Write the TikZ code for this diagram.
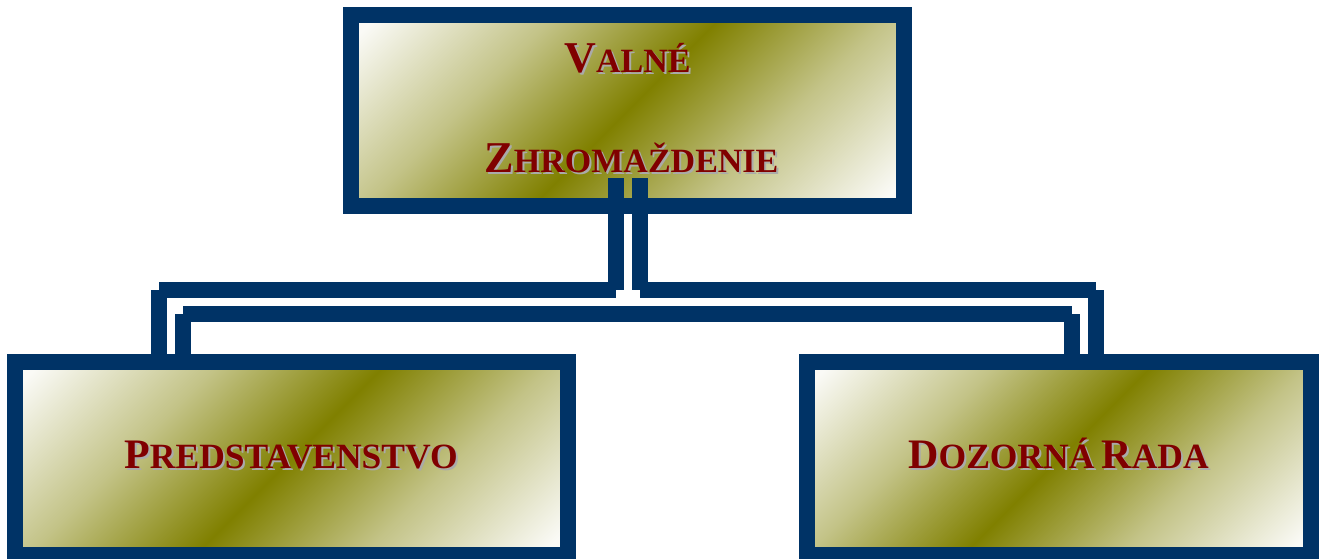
\documentclass[tikz,border=0pt]{standalone}
\usepackage{fontspec}
\setmainfont{Liberation Serif}
\definecolor{navy}{RGB}{0,51,102}
\definecolor{txtred}{RGB}{128,0,0}
\definecolor{shad}{RGB}{170,170,170}
\definecolor{olv}{RGB}{128,128,0}
\definecolor{edgew}{RGB}{250,250,246}
\colorlet{midol}{olv!45!edgew}
\pgfdeclareverticalshading{diagband}{100bp}{color(0bp)=(edgew); color(17bp)=(edgew); color(34bp)=(midol); color(50bp)=(olv); color(66bp)=(midol); color(83bp)=(edgew); color(100bp)=(edgew)}
\newcommand\tbig[1]{{\fontsize{44}{44}\selectfont #1}}
\newcommand\tsml[1]{{\fontsize{34}{34}\selectfont #1}}
\newcommand\bbig[1]{{\fontsize{42}{42}\selectfont #1}}
\newcommand\bsml[1]{{\fontsize{35.5}{35.5}\selectfont #1}}
\begin{document}
\begin{tikzpicture}[x=1pt,y=-1pt,
  box/.style={draw=navy,line width=16pt,inner sep=0pt,
    shading=diagband,shading angle=45},
  conn/.style={draw=navy,line width=16pt,line cap=butt},
  lbl/.style={inner sep=0pt,anchor=base,font=\bfseries,text=txtred},
  lblsh/.style={lbl,text=shad}]
\useasboundingbox (0,0) rectangle (1325,559);
\node[box,minimum width=553pt,minimum height=191pt] (T) at (627.5,110.5) {};
\node[box,minimum width=552.5pt,minimum height=193pt] (L) at (291.25,458.5) {};
\node[box,minimum width=504pt,minimum height=193pt] (R) at (1059,458.5) {};
% labels with shadow
\node[lblsh] (t1s) at (629.5,75) {\tbig{V}\tsml{ALNÉ}};
\node[lbl] (t1) at (627.5,73) {\tbig{V}\tsml{ALNÉ}};
\node[lblsh] (t2s) at (633.5,174) {\tbig{Z}\tsml{HROMAŽDENIE}};
\node[lbl] (t2) at (631.5,172) {\tbig{Z}\tsml{HROMAŽDENIE}};
\node[lblsh] (t3s) at (293,470) {\bbig{P}\bsml{REDSTAVENSTVO}};
\node[lbl] (t3) at (291,468) {\bbig{P}\bsml{REDSTAVENSTVO}};
\node[lblsh] (t4s) at (1060.5,470) {\bbig{D}\bsml{OZORNÁ}\hspace{7pt}\bbig{R}\bsml{ADA}};
\node[lbl] (t4) at (1058.5,468) {\bbig{D}\bsml{OZORNÁ}\hspace{7pt}\bbig{R}\bsml{ADA}};
% connector coordinates
\coordinate (busA) at (0,290);
\coordinate (busC) at (0,314);
\coordinate (tl) at ([xshift=-12pt,yshift=36pt]T.south);
\coordinate (tr) at ([xshift=12pt,yshift=36pt]T.south);
\coordinate (tlb) at (tl |- busA);
\coordinate (trb) at (tr |- busA);
\coordinate (lo) at ([xshift=-132.25pt]L.north);
\coordinate (li) at ([xshift=-108.25pt]L.north);
\coordinate (ro) at ([xshift=36.5pt]R.north);
\coordinate (ri) at ([xshift=12.5pt]R.north);
\coordinate (lob) at (lo |- busA);
\coordinate (rob) at (ro |- busA);
\coordinate (lic) at (li |- busC);
\coordinate (ric) at (ri |- busC);
% connectors
\draw[conn] (tl) -- (tlb);
\draw[conn] (tlb) -- (lob);
\draw[conn] (lob) -- (lo);
\draw[conn] (tr) -- (trb);
\draw[conn] (trb) -- (rob);
\draw[conn] (rob) -- (ro);
\draw[conn] (li) -- (lic);
\draw[conn] (lic) -- (ric);
\draw[conn] (ric) -- (ri);
\end{tikzpicture}
\end{document}
